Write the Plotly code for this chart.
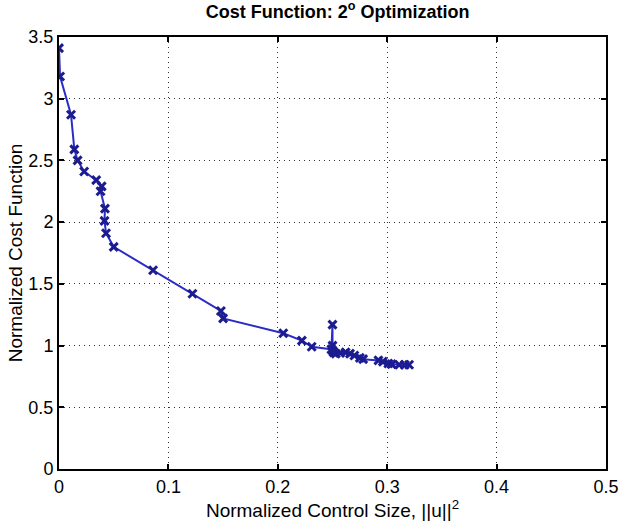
import plotly.graph_objects as go

control_size = [0.000, 0.001, 0.011, 0.014, 0.017, 0.023, 0.034, 0.039, 0.038, 0.042,
                0.0416, 0.043, 0.050, 0.086, 0.122, 0.148, 0.150, 0.205, 0.222, 0.231,
                0.249, 0.250, 0.250, 0.250, 0.251, 0.253, 0.257, 0.262, 0.266, 0.270,
                0.275, 0.278, 0.292, 0.296, 0.301, 0.304, 0.311, 0.316, 0.320]
cost = [3.41, 3.18, 2.87, 2.59, 2.50, 2.41, 2.34, 2.29, 2.25, 2.11,
        2.01, 1.91, 1.80, 1.61, 1.42, 1.28, 1.22, 1.10, 1.04, 0.99,
        0.97, 1.17, 1.00, 0.96, 0.945, 0.935, 0.94, 0.945, 0.935, 0.92,
        0.90, 0.89, 0.88, 0.87, 0.855, 0.85, 0.845, 0.845, 0.845]

x_ticks = [0, 0.1, 0.2, 0.3, 0.4, 0.5]
y_ticks = [0, 0.5, 1, 1.5, 2, 2.5, 3, 3.5]

FONT = "Liberation Sans, Arial, Helvetica"

fig = go.Figure()
fig.add_trace(go.Scatter(
    x=control_size, y=cost, mode="lines+markers",
    line=dict(color="#2b2bc8", width=2),
    marker=dict(symbol="x-thin", size=8, color="#1c1c90",
                line=dict(color="#1c1c90", width=3)),
    showlegend=False,
))

axis_common = dict(
    showline=True, linecolor="black", linewidth=2, mirror="ticks",
    ticks="inside", ticklen=5, tickcolor="black", tickwidth=1.5,
    showgrid=True, gridcolor="#333333", griddash="1px,4px", gridwidth=1.3,
    zeroline=False,
    tickfont=dict(family=FONT, size=18, color="black"),
)

fig.update_layout(
    width=631, height=525,
    margin=dict(l=59, r=16, t=37, b=55),
    paper_bgcolor="white", plot_bgcolor="white",
    title=dict(text="<b>Cost Function: 2<sup>o</sup> Optimization</b>",
               x=0.535, xanchor="center", y=0.99, yanchor="top",
               font=dict(family=FONT, size=18, color="black")),
    xaxis=dict(range=[0, 0.5], tickvals=x_ticks,
               ticktext=[str(t) for t in x_ticks],
               title=dict(text="Normalized Control Size, ||u||<sup>2</sup>",
                          font=dict(family=FONT, size=19, color="black"),
                          standoff=3),
               **axis_common),
    yaxis=dict(range=[0, 3.5], tickvals=y_ticks,
               ticktext=[str(t) for t in y_ticks],
               title=dict(text="Normalized Cost Function",
                          font=dict(family=FONT, size=19, color="black"),
                          standoff=1),
               **axis_common),
)

fig.write_html("out.html")
